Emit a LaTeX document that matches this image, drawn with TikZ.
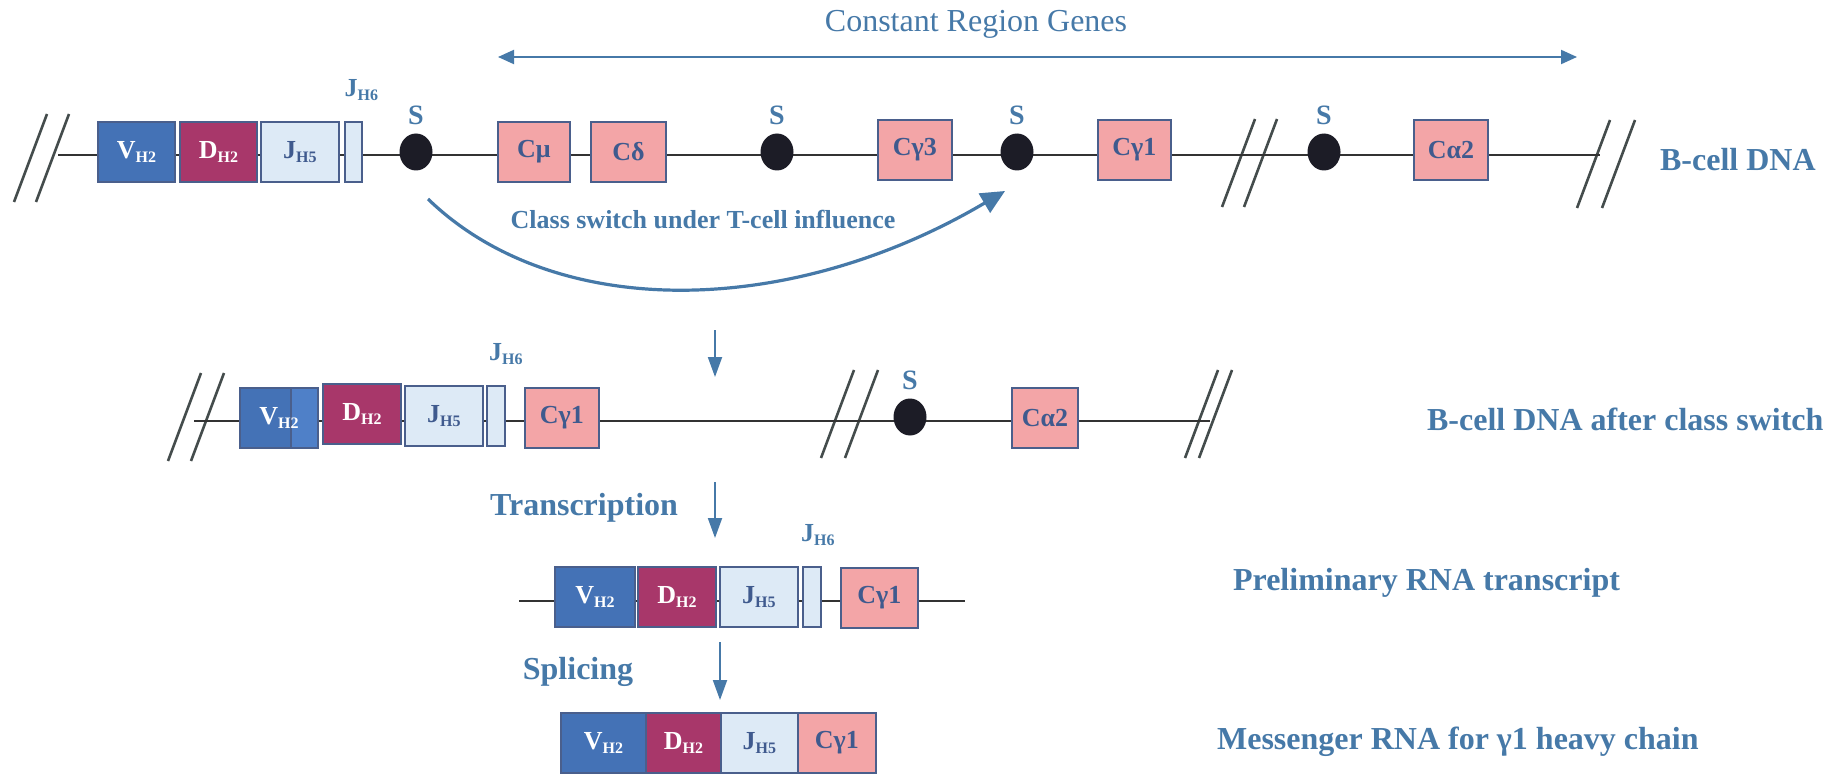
\documentclass[tikz,border=0pt]{standalone}
\usepackage{fontspec}
\setmainfont{Liberation Serif}
\usetikzlibrary{calc, positioning, arrows.meta, shapes.geometric}

\definecolor{vblue}{HTML}{4472B6}
\definecolor{vlight}{HTML}{4F80C8}
\definecolor{dmag}{HTML}{A8376A}
\definecolor{jlight}{HTML}{DDEAF6}
\definecolor{cpink}{HTML}{F3A5A7}
\definecolor{gborder}{HTML}{4A5F8C}
\definecolor{gtext}{HTML}{3F5A8E}
\definecolor{txtblue}{HTML}{4679A8}
\definecolor{dnagray}{HTML}{333333}
\definecolor{brkgray}{HTML}{444C4C}
\definecolor{sitecol}{HTML}{1C1C26}

\newcommand{\gsub}[1]{\raisebox{-0.3ex}{\fontsize{8}{8}\selectfont #1}}

\begin{document}
\begin{tikzpicture}[x=0.5pt, y=-0.5pt,
  gene/.style={draw=gborder, line width=0.9pt, minimum height=30pt, inner sep=0pt, anchor=west, font=\fontsize{13}{13}\selectfont\bfseries},
  vseg/.style={gene, fill=vblue, text=white},
  dseg/.style={gene, fill=dmag, text=white},
  jseg/.style={gene, fill=jlight, text=gtext},
  cseg/.style={gene, fill=cpink, text=gtext},
  dna/.style={line width=0.9pt, draw=dnagray},
  brk/.style={line width=1.3pt, draw=brkgray},
  site/.style={ellipse, fill=sitecol, minimum width=16.5pt, minimum height=18.5pt, inner sep=0pt},
  slab/.style={text=txtblue, font=\fontsize{14}{14}\selectfont\bfseries, inner sep=1pt},
  jlab/.style={text=txtblue, font=\fontsize{13}{13}\selectfont\bfseries, inner sep=1pt},
  side/.style={text=txtblue, font=\fontsize{16}{16}\selectfont\bfseries, anchor=west},
  down/.style={draw=txtblue, line width=1pt, -{Triangle[length=10pt, width=7pt]}},
]
\path[fill=white] (0,0) rectangle (1839,775);

% Constant region span
\coordinate (cr0) at (498,57);
\coordinate (cr1) at (1577,57);
\draw[txtblue, line width=1pt, {Triangle[length=8pt, width=7pt]}-{Triangle[length=8pt, width=7pt]}] (cr0) -- (cr1);
\node[text=txtblue, font=\fontsize{16}{16}\selectfont] (crlab) at (976,24) {Constant Region Genes};

% Breaks in the DNA
\foreach \x/\y/\g in {14/202/22, 1222/207/22, 1577/208/25, 168/461/23, 821/458/24, 1185/458/14}
  \draw[brk] (\x,\y) -- ++(33,-88) (\x+\g,\y) -- ++(33,-88);

% B-cell DNA
\coordinate (l1) at (58,155);
\coordinate (r1) at (1600,155);
\draw[dna] (l1) -- (r1);
\node[vseg, minimum width=38.5pt] (v1) at (97,152) {V\gsub{H2}};
\node[dseg, minimum width=38.5pt] (d1) at (179,152) {D\gsub{H2}};
\node[jseg, minimum width=39pt] (j1) at (260,152) {J\gsub{H5}};
\node[jseg, minimum width=8.5pt] (jsix1) at (344,152) {};
\node[jlab, above=9pt of jsix1, xshift=4pt] (jl1) {J\gsub{H6}};
\node[cseg, minimum width=36pt] (cmu) at (497,152) {Cμ};
\node[cseg, minimum width=37.5pt] (cdelta) at (590,152) {Cδ};
\node[cseg, minimum width=37pt] (cg3) at (877,150) {Cγ3};
\node[cseg, minimum width=36.5pt] (cg1) at (1097,150) {Cγ1};
\node[cseg, minimum width=37pt] (ca2) at (1413,150) {Cα2};
\foreach \n/\x in {1/416, 2/777, 3/1017, 4/1324} {
  \node[site] (s\n) at (\x,152) {};
  \node[slab, above=3pt of s\n] (sl\n) {S};
}
\node[side] (lab1) at (1653,160) {B-cell DNA};

% Class switch
\coordinate (sw0) at (428,199);
\coordinate (sw1) at (1005,191);
\draw[txtblue, line width=1.6pt, -{Triangle[length=12pt, width=11pt]}] (sw0) .. controls (555,322) and (790,318) .. (sw1);
\node[text=txtblue, font=\fontsize{13}{13}\selectfont\bfseries] (swlab) at (703,220) {Class switch under T-cell influence};

\coordinate (a1s) at (715,330);
\coordinate (a1e) at (715,377);
\draw[down] (a1s) -- (a1e);

% After class switch
\coordinate (l2) at (194,421);
\coordinate (r2) at (1210,421);
\draw[dna] (l2) -- (r2);
\node[vseg, minimum width=39pt] (v2) at (239,418) {};
\node[vseg, fill=vlight, minimum width=13.5pt] (v2b) at (290,418) {};
\node[text=white, font=\fontsize{13}{13}\selectfont\bfseries] (v2lab) at (v2.center) {V\gsub{H2}};
\node[dseg, minimum width=39pt] (d2) at (322,414) {D\gsub{H2}};
\node[jseg, minimum width=39pt] (j2) at (404,416) {J\gsub{H5}};
\node[jseg, minimum width=9pt] (jsix2) at (486,416) {};
\node[jlab, above=9pt of jsix2, xshift=5pt] (jl2) {J\gsub{H6}};
\node[cseg, minimum width=37pt] (cg1b) at (524,418) {Cγ1};
\node[site] (s5) at (910,417) {};
\node[slab, above=3pt of s5] (sl5) {S};
\node[cseg, minimum width=33pt] (ca2b) at (1011,418) {Cα2};
\node[side] (lab2) at (1420,419) {B-cell DNA after class switch};

\coordinate (a2s) at (715,482);
\coordinate (a2e) at (715,538);
\draw[down] (a2s) -- (a2e);
\node[text=txtblue, font=\fontsize{16}{16}\selectfont\bfseries] (trlab) at (584,508) {Transcription};

% Preliminary transcript
\coordinate (l3) at (519,601);
\coordinate (r3) at (965,601);
\draw[dna] (l3) -- (r3);
\node[vseg, minimum width=40pt] (v3) at (554,597) {V\gsub{H2}};
\node[dseg, minimum width=39pt] (d3) at (637,597) {D\gsub{H2}};
\node[jseg, minimum width=39pt] (j3) at (719,597) {J\gsub{H5}};
\node[jseg, minimum width=9pt] (jsix3) at (802,597) {};
\node[jlab, above=9pt of jsix3, xshift=3pt] (jl3) {J\gsub{H6}};
\node[cseg, minimum width=38.5pt] (cg1c) at (840,598) {Cγ1};
\node[side] (lab3) at (1226,583) {Preliminary RNA transcript};

\coordinate (a3s) at (720,642);
\coordinate (a3e) at (720,700);
\draw[down] (a3s) -- (a3e);
\node[text=txtblue, font=\fontsize{16}{16}\selectfont\bfseries] (splab) at (578,672) {Splicing};

% Messenger RNA
\node[vseg, minimum width=42.5pt] (v4) at (560,743) {V\gsub{H2}};
\node[dseg, minimum width=37.5pt] (d4) at (645,743) {D\gsub{H2}};
\node[jseg, minimum width=38.5pt] (j4) at (720,743) {J\gsub{H5}};
\node[cseg, minimum width=39pt] (cg1d) at (797,743) {Cγ1};
\node[side] (lab4) at (1210,742) {Messenger RNA for γ1 heavy chain};

\useasboundingbox (0,0) rectangle (1839,775);
\end{tikzpicture}
\end{document}
